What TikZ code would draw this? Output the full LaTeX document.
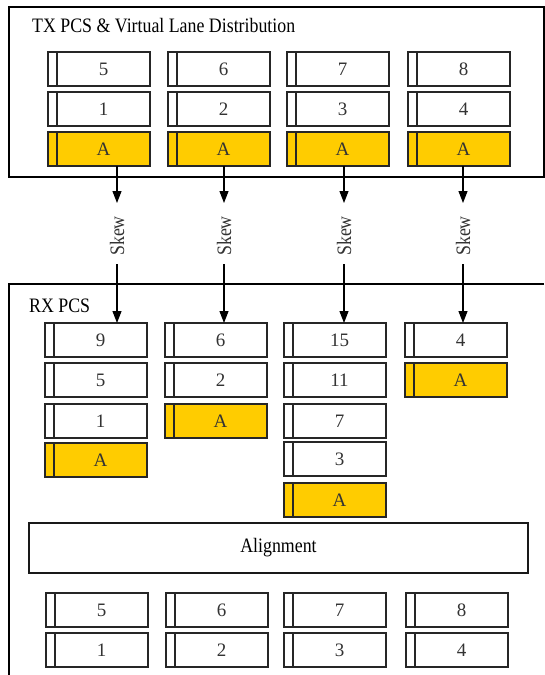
\documentclass[tikz,border=0pt]{standalone}
\usepackage{fontspec}
\setmainfont{Liberation Serif}
\newfontfamily\condfont[FakeStretch=0.87]{Liberation Serif}
\usetikzlibrary{arrows.meta}
\definecolor{lanegold}{HTML}{FFCC00}
\tikzset{
  lanemain/.style={draw=black!85, line width=1.1pt, minimum width=93pt, minimum height=34pt,
    inner sep=0pt, outer sep=0pt, font=\fontsize{19}{21}\selectfont, text=black!80},
  lanestrip/.style={draw=black!85, line width=1.1pt, minimum width=9pt, minimum height=34pt,
    inner sep=0pt, outer sep=0pt, anchor=north east},
  marker/.style={fill=lanegold},
  arr/.style={line width=1.1pt, -{Triangle[length=12pt,width=9pt]}},
  frame/.style={line width=1.2pt},
  boxtitle/.style={font=\condfont\fontsize{20.5}{22}\selectfont, inner sep=0pt, anchor=base west},
  skewlabel/.style={font=\condfont\fontsize{20.5}{22}\selectfont, inner sep=0pt, rotate=90, text=black!80},
}
\newcommand\lane[5]{%
  \node[lanemain,#5] (#1) at (#2+55.5,#3+17) {#4};
  \node[lanestrip,#5] (#1s) at (#1.north west) {};
}
\begin{document}
\begin{tikzpicture}[x=1pt,y=-1pt]
\useasboundingbox (0,0) rectangle (545,675);
% TX box
\draw[frame] (9,7) rectangle (544,177);
\node[boxtitle] (txtitle) at (32,32) {TX PCS \& Virtual Lane Distribution};
\lane{tx5}{48}{52}{5}{}
\lane{tx6}{168}{52}{6}{}
\lane{tx7}{287}{52}{7}{}
\lane{tx8}{408}{52}{8}{}
\lane{tx1}{48}{92}{1}{}
\lane{tx2}{168}{92}{2}{}
\lane{tx3}{287}{92}{3}{}
\lane{tx4}{408}{92}{4}{}
\lane{txA1}{48}{132}{A}{marker}
\lane{txA2}{168}{132}{A}{marker}
\lane{txA3}{287}{132}{A}{marker}
\lane{txA4}{408}{132}{A}{marker}
% RX box
\draw[frame] (544,284) -- (9,284) -- (9,675);
\node[boxtitle] (rxtitle) at (29,312) {RX PCS};
\lane{rx9}{45}{323}{9}{}
\lane{rx5}{45}{363}{5}{}
\lane{rx1}{45}{404}{1}{}
\lane{rxA1}{45}{443}{A}{marker}
\lane{rx6}{165}{323}{6}{}
\lane{rx2}{165}{363}{2}{}
\lane{rxA2}{165}{404}{A}{marker}
\lane{rx15}{284}{323}{15}{}
\lane{rx11}{284}{363}{11}{}
\lane{rx7}{284}{404}{7}{}
\lane{rx3}{284}{442}{3}{}
\lane{rxA3}{284}{483}{A}{marker}
\lane{rx4}{405}{323}{4}{}
\lane{rxA4}{405}{363}{A}{marker}
% Alignment
\node[draw=black!90, line width=1.1pt, minimum width=499pt, minimum height=50pt, inner sep=0pt,
  font=\condfont\fontsize{20.5}{22}\selectfont] (align) at (278.5,548) {Alignment};
\lane{al5}{46}{593}{5}{}
\lane{al6}{166}{593}{6}{}
\lane{al7}{284}{593}{7}{}
\lane{al8}{406}{593}{8}{}
\lane{al1}{46}{633}{1}{}
\lane{al2}{166}{633}{2}{}
\lane{al3}{284}{633}{3}{}
\lane{al4}{406}{633}{4}{}
% Skew arrows
\foreach \i/\x/\t/\r in {1/117/txA1/rx9, 2/224/txA2/rx6, 3/344/txA3/rx15, 4/463/txA4/rx4}{
  \node[skewlabel] (skew\i) at (\x,236) {Skew};
  \coordinate (sa\i) at (\x,203);
  \coordinate (sb\i) at (\x,264);
  \draw[arr] (\t.south -| sa\i) -- (sa\i);
  \draw[arr] (sb\i) -- (sb\i |- \r.north);
}
\end{tikzpicture}
\end{document}
